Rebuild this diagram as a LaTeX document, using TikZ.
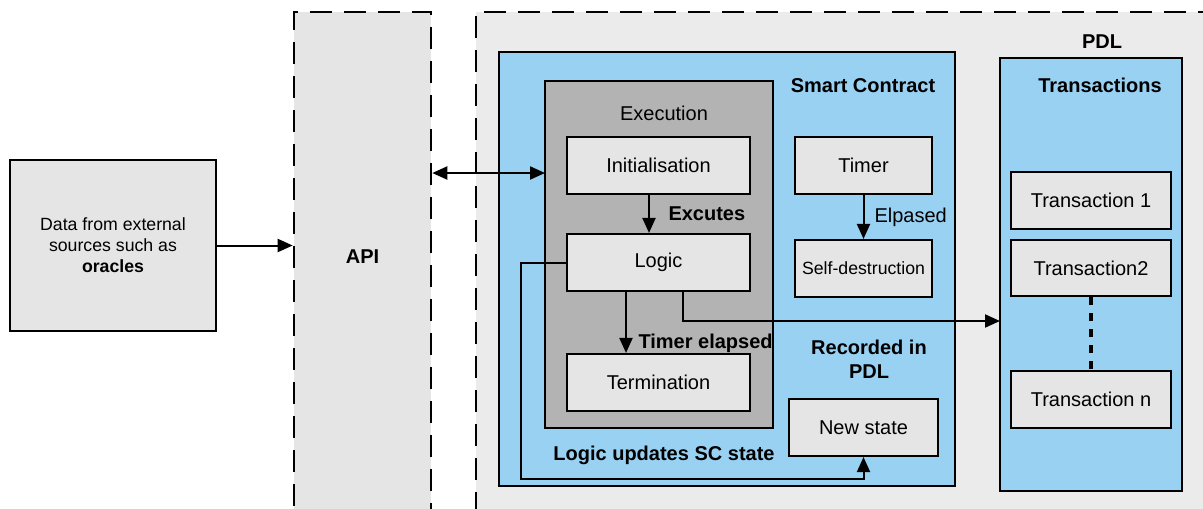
\documentclass[tikz,border=0pt]{standalone}
\usepackage{fontspec}
\setmainfont{Liberation Sans}
\usetikzlibrary{arrows.meta}
\definecolor{boxgray}{RGB}{229,229,229}
\definecolor{bggray}{RGB}{235,235,235}
\definecolor{execgray}{RGB}{179,179,179}
\definecolor{scblue}{RGB}{153,209,243}
\begin{document}
\begin{tikzpicture}[x=1pt,y=-1pt,
  every node/.style={font=\fontsize{20}{24}\selectfont},
  box/.style={draw, line width=2.1pt, fill=boxgray, inner sep=0pt},
  region/.style={draw, line width=2.3pt, inner sep=0pt},
  dregion/.style={draw, line width=2.6pt, dash pattern=on 22pt off 12pt, inner sep=0pt},
  lbl/.style={font=\fontsize{20}{24}\selectfont\bfseries},
  arr/.style={line width=2pt, -{Triangle[length=15pt,width=13pt]}},
  darr/.style={line width=2pt, {Triangle[length=15pt,width=13pt]}-{Triangle[length=15pt,width=13pt]}}
]
\useasboundingbox (0,0) rectangle (1203,509);
\clip (0,0) rectangle (1203,509);
\fill[white] (0,0) rectangle (1203,509);
% outer regions
\node[dregion, fill=boxgray, minimum width=137pt, minimum height=512pt] (api) at (362.5,268) {};
\node[lbl] (apilbl) at (362.5,257) {API};
\node[dregion, fill=bggray, minimum width=745pt, minimum height=512pt] (pdl) at (848.5,268) {};
\node[lbl] (pdllbl) at (1102,42) {PDL};
% data box
\node[box, minimum width=206pt, minimum height=171pt, align=center,
  font=\fontsize{17.7}{21}\selectfont] (data) at (113,245.5)
  {Data from external\\sources such as\\\textbf{oracles}};
% smart contract
\node[region, fill=scblue, minimum width=456pt, minimum height=434pt] (sc) at (727,269) {};
\node[lbl] (sclbl) at (863,86) {Smart Contract};
\node[region, fill=execgray, minimum width=228pt, minimum height=347pt] (exec) at (659,254.5) {};
\node (execlbl) at (664,113) {Execution};
\node[box, minimum width=183pt, minimum height=57pt] (init) at (658.5,165.5) {Initialisation};
\node[box, minimum width=183pt, minimum height=57pt] (logic) at (658.5,262.5) {Logic};
\node[box, minimum width=183pt, minimum height=57pt] (term) at (658.5,382.5) {Termination};
\node[box, minimum width=137pt, minimum height=57pt] (timer) at (863.5,165.5) {Timer};
\node[box, minimum width=137pt, minimum height=57pt, font=\fontsize{17.7}{21}\selectfont] (self) at (863.5,268.5) {Self-destruction};
\node[box, minimum width=149pt, minimum height=57pt] (news) at (863.5,427.5) {New state};
\node[lbl, align=center] (rec) at (869,359) {Recorded in\\PDL};
\node[lbl] (upd) at (664,455) {Logic updates SC state};
% transactions
\node[region, fill=scblue, minimum width=182pt, minimum height=433pt] (trans) at (1091,274.5) {};
\node[lbl] (translbl) at (1100,85) {Transactions};
\node[box, minimum width=160pt, minimum height=57pt] (t1) at (1091,200.5) {Transaction 1};
\node[box, minimum width=160pt, minimum height=56pt] (t2) at (1091,268) {Transaction2};
\node[box, minimum width=160pt, minimum height=57pt] (tn) at (1091,399.5) {Transaction n};
\draw[line width=3.2pt, dash pattern=on 8pt off 8pt] (t2.south) -- (tn.north);
% connectors
\draw[arr] (data.east) -- (api.west |- data.east);
\coordinate (io) at (545,173);
\draw[darr] (api.east |- io) -- (io);
\draw[arr] ([xshift=-9.5pt]init.south) -- ([xshift=-9.5pt]logic.north);
\node[lbl, anchor=west] (exc) at (665,214) {Excutes};
\draw[arr] ([xshift=-32.5pt]logic.south) -- ([xshift=-32.5pt]term.north);
\node[lbl, anchor=west] (tel) at (635,343) {Timer elapsed};
\draw[arr] (timer.south) -- (self.north);
\node[anchor=west] (elp) at (871,217) {Elpased};
\coordinate (tin) at (1000,321);
\draw[arr] ([xshift=24.5pt]logic.south) |- (tin);
\draw[arr] (logic.west) -- (521,262.5) -- (521,479) -- (news.south |- 0,479) -- (news.south);
\end{tikzpicture}
\end{document}
